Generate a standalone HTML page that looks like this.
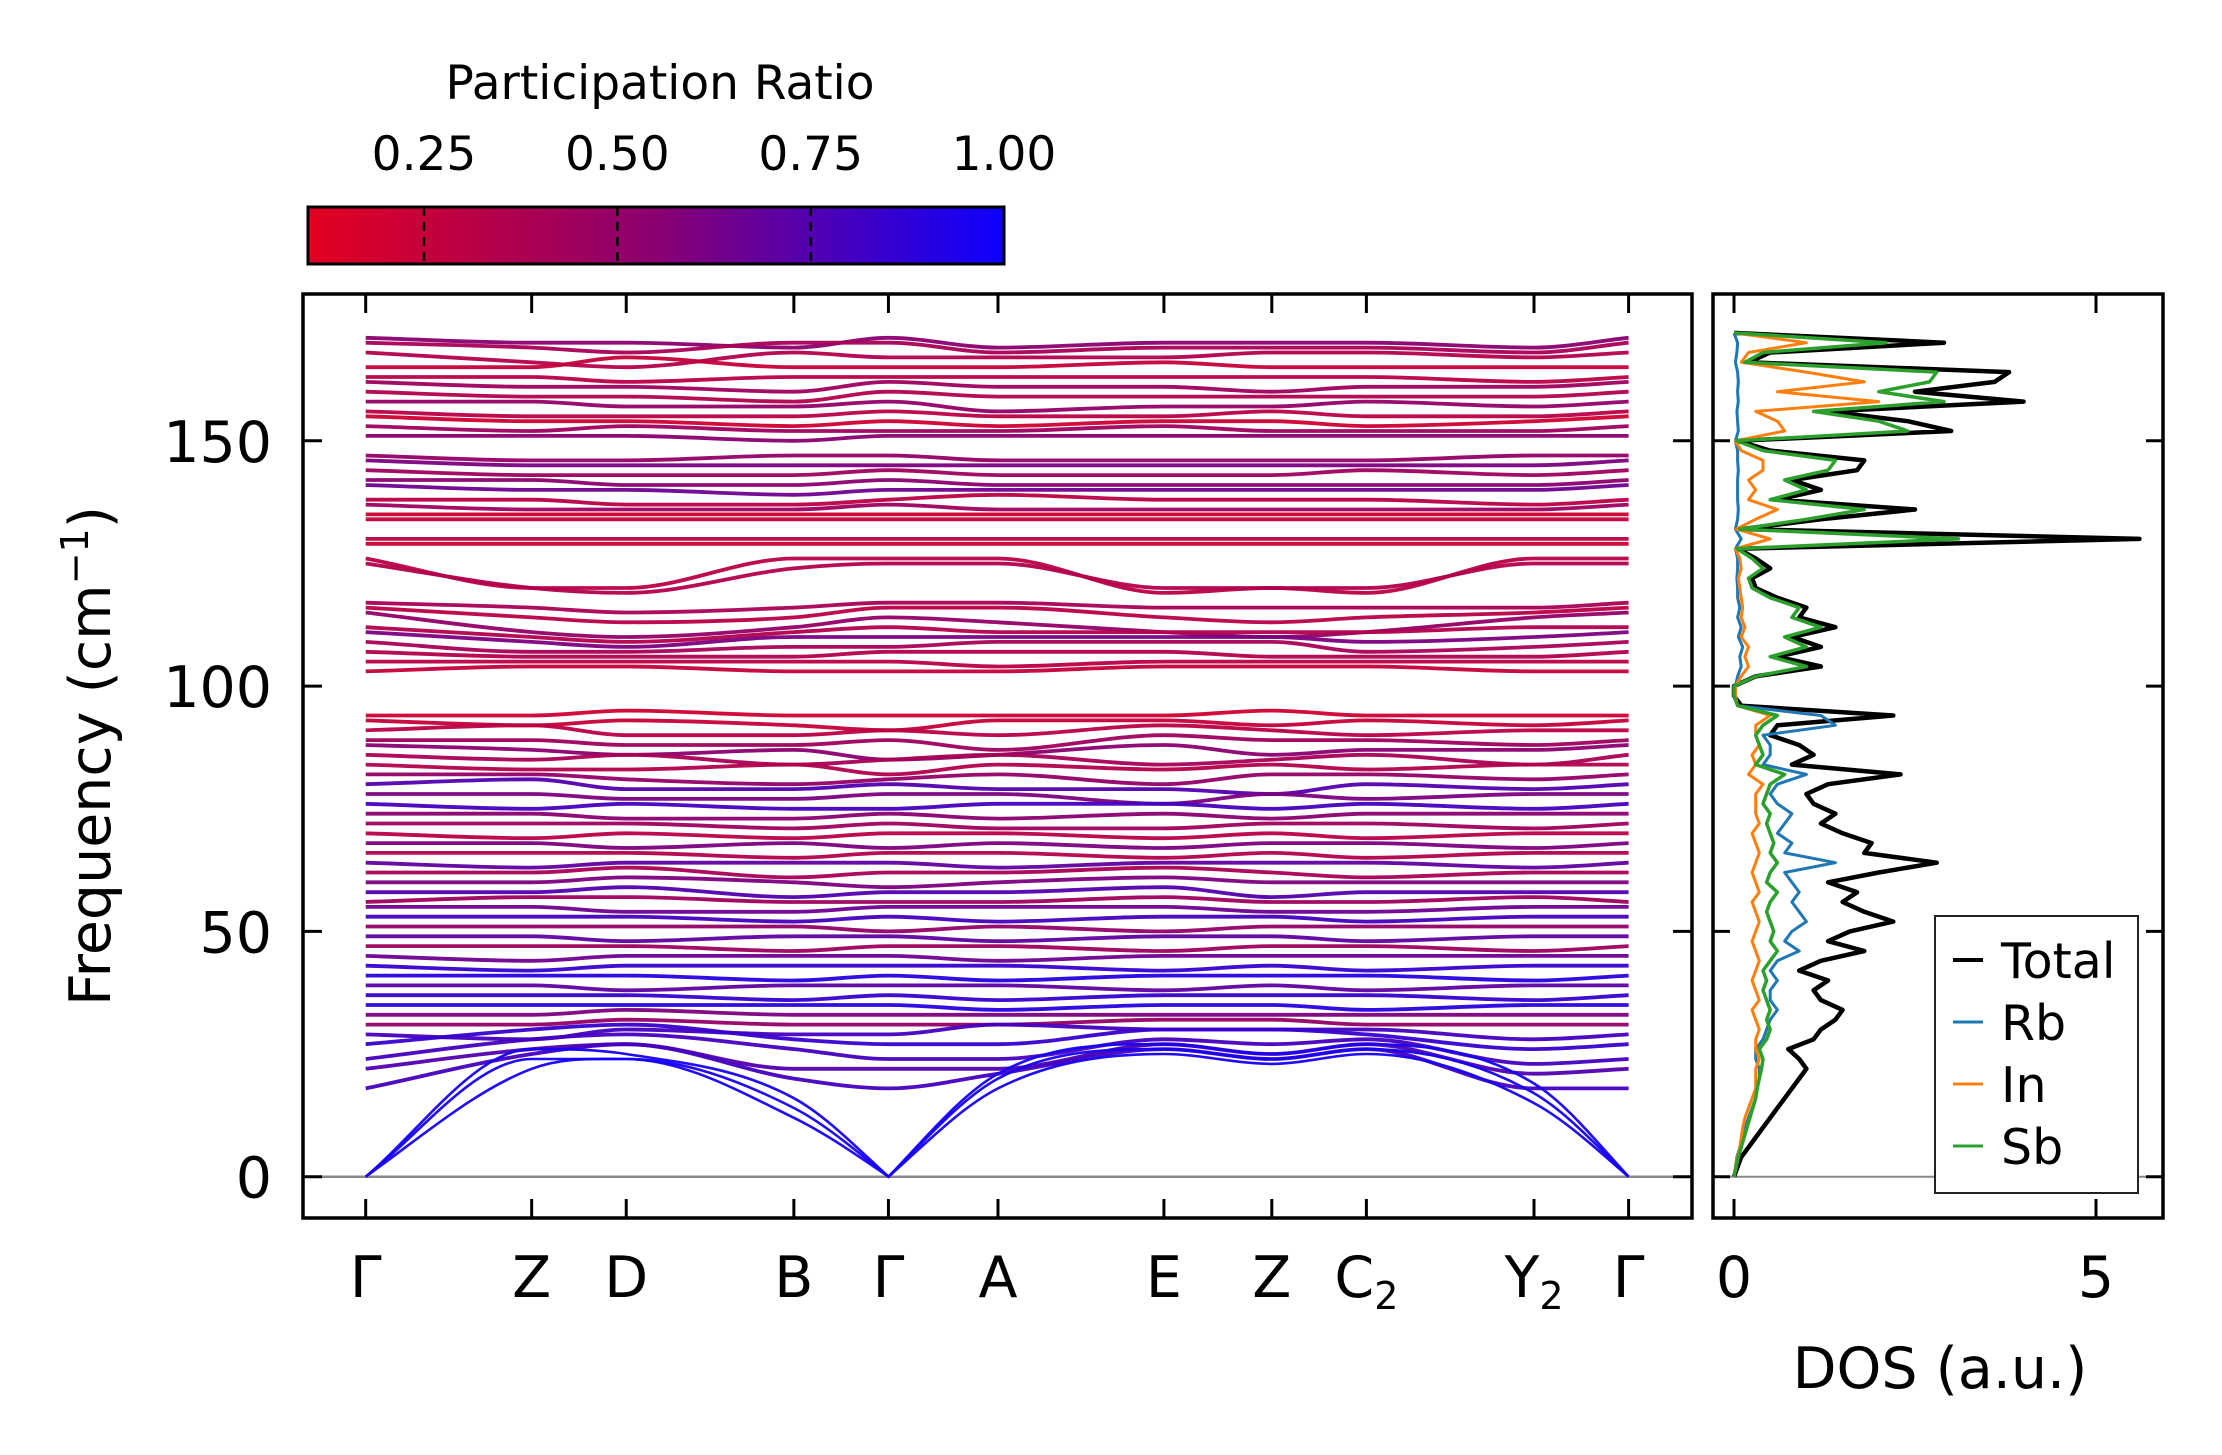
<!DOCTYPE html>
<html><head><meta charset="utf-8">
<style>
html,body{margin:0;padding:0;background:#fff;}
svg{display:block;font-family:"DejaVu Sans","Liberation Sans",sans-serif;}
</style></head>
<body>
<svg id="fig" width="2222" height="1455" viewBox="0 0 2222 1455" xmlns="http://www.w3.org/2000/svg">
<defs>
<linearGradient id="cmap" x1="0" x2="1" y1="0" y2="0">
<stop offset="0" stop-color="rgb(227,0,32)"/>
<stop offset="0.5" stop-color="rgb(138,0,112)"/>
<stop offset="1" stop-color="rgb(12,0,255)"/>
</linearGradient>
<clipPath id="clipMain"><rect x="303" y="294" width="1389" height="924"/></clipPath>
<clipPath id="clipDos"><rect x="1713" y="294" width="450" height="924"/></clipPath>
</defs>

<text x="660" y="99" font-size="47" text-anchor="middle">Participation Ratio</text>
<rect x="308" y="207" width="696" height="57" fill="url(#cmap)" stroke="#000" stroke-width="3"/>
<g id="cbticks"></g>

<g id="bands" clip-path="url(#clipMain)"></g>
<rect x="303" y="294" width="1389" height="924" fill="none" stroke="#000" stroke-width="3.5"/>
<g id="mainTicks"></g>
<text transform="translate(110,756) rotate(-90)" font-size="57" text-anchor="middle">Frequency (cm<tspan font-size="38" dy="-22">−1</tspan><tspan dy="22">)</tspan></text>

<g id="dos" clip-path="url(#clipDos)"></g>
<rect x="1713" y="294" width="450" height="924" fill="none" stroke="#000" stroke-width="3.5"/>
<g id="dosTicks"></g>
<text x="1940" y="1388" font-size="57" text-anchor="middle">DOS (a.u.)</text>

<g>
<rect x="1935" y="916" width="203" height="277" fill="#fff" stroke="#222" stroke-width="2"/>
<g><line x1="1953" x2="1983" y1="960" y2="960" stroke="#000" stroke-width="4"/><text x="2001" y="978" font-size="49">Total</text></g>
<g><line x1="1953" x2="1983" y1="1022" y2="1022" stroke="#1f77b4" stroke-width="3"/><text x="2001" y="1040" font-size="49">Rb</text></g>
<g><line x1="1953" x2="1983" y1="1084" y2="1084" stroke="#ff7f0e" stroke-width="3"/><text x="2001" y="1102" font-size="49">In</text></g>
<g><line x1="1953" x2="1983" y1="1146" y2="1146" stroke="#2ca02c" stroke-width="3"/><text x="2001" y="1164" font-size="49">Sb</text></g>
</g>

<script>
const kLabels = ["Γ","Z","D","B","Γ","A","E","Z","C2","Y2","Γ"];
const kPos = [0, 1.0, 1.57, 2.58, 3.15, 3.81, 4.81, 5.46, 6.03, 7.04, 7.61];
const yTicks = [0, 50, 100, 150];
const cbTicks = [0.25, 0.50, 0.75, 1.00];
const bandFreqs = [
[171,170,170,169,171,169,170,170,170,169,171],
[170,169,168,170,170,168,169,169,169,168,170],
[168,166,165,168,167,167,167,168,168,167,168],
[165,165,167,165,165,165,166,165,165,165,165],
[163,163,162,163,163,163,163,163,163,162,163],
[162,161,161,160,162,161,161,160,161,161,162],
[160,159,159,158,160,159,159,159,159,159,160],
[158,158,157,157,158,156,157,157,158,157,158],
[156,155,155,155,156,155,155,156,155,155,156],
[155,154,154,153,154,153,154,154,153,154,155],
[153,152,153,152,152,152,153,152,152,152,153],
[151,151,151,150,151,151,151,151,151,151,151],
[147,146,146,147,147,146,146,146,146,147,147],
[146,145,145,145,145,145,145,145,145,145,146],
[144,143,143,143,144,143,143,143,144,143,144],
[142,142,141,141,142,141,141,141,141,141,142],
[141,140,140,139,140,140,140,140,140,140,141],
[138,138,137,137,138,139,138,138,138,137,138],
[137,136,136,136,137,136,136,136,136,136,137],
[135,135,135,135,135,135,135,135,135,135,135],
[134,134,134,134,134,134,134,134,134,134,134],
[130,130,130,130,130,130,130,130,130,130,130],
[129,129,129,129,129,129,129,129,129,129,129],
[126,120,120,126,126,126,119,120,119,126,126],
[125,120,119,124,125,125,120,120,120,125,125],
[117,116,115,116,117,117,116,116,116,116,117],
[116,114,113,114,116,116,114,113,114,115,116],
[115,111,110,112,114,113,111,110,111,114,115],
[112,110,109,111,112,111,111,111,111,112,112],
[111,109,108,110,110,110,110,110,109,110,111],
[109,107,107,108,108,109,109,109,107,108,109],
[107,106,106,106,107,107,107,106,106,106,107],
[105,105,105,105,105,104,105,105,105,105,105],
[103,104,104,103,103,103,104,104,104,103,103],
[94,94,95,94,94,94,94,95,94,94,94],
[93,92,93,92,91,93,93,92,93,92,93],
[91,92,90,90,91,90,92,91,90,91,91],
[89,89,88,88,89,87,90,89,89,88,89],
[88,87,86,87,85,86,88,86,87,87,88],
[86,85,86,84,85,86,84,85,86,84,86],
[84,83,83,84,82,84,83,84,83,84,84],
[82,82,81,80,81,82,80,82,82,81,82],
[80,81,79,79,80,79,79,78,80,79,80],
[78,78,77,77,78,78,76,78,77,78,78],
[76,75,76,75,75,76,76,75,76,75,76],
[74,74,73,73,74,73,74,73,74,74,74],
[72,72,72,71,72,71,71,72,72,71,72],
[70,69,70,69,70,70,69,70,69,70,70],
[68,68,67,68,67,68,67,68,68,67,68],
[66,66,66,65,66,66,65,66,65,66,66],
[64,63,64,64,64,63,64,64,64,63,64],
[62,62,63,61,62,62,63,62,61,62,62],
[60,60,61,60,59,60,61,60,60,60,60],
[58,58,59,57,58,58,59,57,58,58,58],
[56,57,57,56,56,56,57,56,56,57,56],
[55,55,54,54,55,55,55,54,54,55,55],
[53,53,53,52,53,52,53,53,52,53,53],
[51,51,51,51,50,51,50,51,51,51,51],
[49,49,48,49,49,48,49,49,48,49,49],
[47,47,47,46,47,47,46,47,47,46,47],
[45,44,45,45,45,44,45,45,45,45,45],
[43,42,43,43,43,43,42,43,42,43,43],
[41,41,41,40,41,40,41,41,41,40,41],
[39,39,38,39,39,39,38,39,38,39,39],
[37,37,37,36,37,36,37,37,37,36,37],
[35,35,35,35,35,34,35,35,34,35,35],
[33,33,34,33,33,33,33,33,33,33,33],
[31,31,32,31,31,31,32,32,31,31,31],
[29,28,30,29,29,31,30,30,30,28,29],
[27,30,31,28,27,27,30,30,29,26,27],
[24,28,29,26,24,24,28,27,28,23,24],
[22,26,27,22,22,22,27,25,27,21,22],
[18,25,27,20,18,21,26,24,26,18,18],
[0,26,25,16,0,21,27,25,27,19,0],
[0,24,24,14,0,20,26,24,26,17,0],
[0,22,24,12,0,18,25,23,25,15,0]
];
const bandPR = [
.55,.4,.35,.25,.3,.45,.35,.5,.3,.2,.45,.55,
.5,.6,.45,.55,.65,.3,.45,.2,.25,.3,.2,.3,.35,
.4,.3,.5,.35,.6,.4,.35,.3,.25,
.2,.25,.3,.45,.55,.4,.35,.5,.75,.6,.8,.55,.45,.3,.6,.35,.7,.4,.6,.75,.45,.65,.8,.5,.7,.45,.65,.85,.9,.7,.85,.9,.6,.5,
.8,.85,.8,.75,.8,
.97,.97,.97
];
const dosFreq = [];
for (let f = 0; f <= 172; f += 2) dosFreq.push(f);
const dosTotal = [0,0.05,0.1,0.2,0.3,0.4,0.5,0.6,0.7,0.8,
 0.9,1.0,0.9,0.75,1.1,1.2,1.4,1.5,1.2,1.1,
 1.3,0.9,1.2,1.8,1.3,1.6,2.2,1.8,1.5,1.7,
 1.3,2.0,2.8,1.8,1.9,1.5,1.2,1.4,1.1,1.0,
 1.3,2.3,0.8,1.1,0.9,0.5,0.6,2.2,0.1,0.0,
 0.0,0.3,1.2,0.6,1.2,0.8,1.4,0.9,1.0,0.6,
 0.3,0.25,0.5,0.3,0.05,5.6,0.1,1.2,2.5,0.6,
 1.2,0.8,1.7,1.8,0.5,0.05,3.0,2.4,1.3,4.0,
 2.5,3.6,3.8,0.2,0.5,2.9,0];
const dosRb = [0,0.02,0.04,0.08,0.12,0.15,0.2,0.25,0.3,0.3,
 0.35,0.35,0.3,0.3,0.4,0.45,0.5,0.6,0.5,0.5,
 0.6,0.5,0.6,0.9,0.7,0.8,1.0,0.9,0.8,0.9,
 0.8,0.7,1.4,0.7,0.8,0.6,0.7,0.8,0.6,0.5,
 0.6,1.0,0.4,0.5,0.5,0.4,1.4,1.2,0.05,0.02,
 0.02,0.05,0.1,0.08,0.12,0.06,0.1,0.05,0.08,0.05,
 0.05,0.04,0.05,0.05,0.02,0.1,0.02,0.05,0.06,0.05,
 0.05,0.05,0.06,0.05,0.05,0.02,0.06,0.05,0.04,0.06,
 0.05,0.06,0.05,0.02,0.04,0.05,0];
const dosIn = [0,0.02,0.05,0.08,0.1,0.12,0.15,0.2,0.25,0.3,
 0.3,0.3,0.35,0.3,0.3,0.35,0.3,0.25,0.35,0.3,
 0.25,0.3,0.35,0.3,0.25,0.3,0.35,0.3,0.25,0.35,
 0.3,0.25,0.3,0.35,0.3,0.25,0.35,0.3,0.3,0.3,
 0.4,0.2,0.3,0.25,0.35,0.3,0.3,0.5,0.05,0.02,
 0.02,0.1,0.2,0.15,0.2,0.1,0.15,0.1,0.12,0.1,
 0.08,0.06,0.1,0.08,0.02,0.5,0.03,0.3,0.6,0.2,
 0.3,0.2,0.4,0.4,0.1,0.02,0.7,0.6,0.3,2.0,
 0.6,1.8,1.0,0.1,0.2,1.0,0];
const dosSb = [0,0.03,0.06,0.1,0.14,0.18,0.22,0.26,0.3,0.32,
 0.35,0.38,0.4,0.35,0.45,0.5,0.45,0.5,0.45,0.4,
 0.45,0.4,0.5,0.6,0.5,0.55,0.5,0.45,0.5,0.6,
 0.45,0.5,0.6,0.5,0.55,0.5,0.45,0.5,0.4,0.45,
 0.5,0.7,0.3,0.4,0.35,0.3,0.4,0.6,0.05,0.0,
 0.0,0.3,1.0,0.5,1.0,0.7,1.2,0.8,0.9,0.5,
 0.25,0.2,0.4,0.25,0.04,3.1,0.08,1.0,1.8,0.5,
 1.0,0.7,1.3,1.4,0.4,0.04,2.4,2.0,1.1,2.9,
 2.0,2.7,2.8,0.15,0.4,2.1,0];

const NS = "http://www.w3.org/2000/svg";
const kx = k => 365.7 + (k / 7.61) * (1628.6 - 365.7);
const fy = f => 1176.7 - 4.906 * f;
const dx = v => 1734 + 72.4 * v;
const cbx = v => 308 + (v - 0.1) / 0.9 * 696;
function mk(tag, attrs, parent) {
  const e = document.createElementNS(NS, tag);
  for (const k in attrs) e.setAttribute(k, attrs[k]);
  parent.appendChild(e);
  return e;
}
function prColor(p) {
  let t = Math.max(0, Math.min(1, (p - 0.1) / 0.9));
  let a, b, u;
  if (t < 0.5) { a = [227,0,32]; b = [138,0,112]; u = t / 0.5; }
  else { a = [138,0,112]; b = [12,0,255]; u = (t - 0.5) / 0.5; }
  const c = a.map((v, i) => Math.round(v + (b[i] - v) * u));
  return `rgb(${c[0]},${c[1]},${c[2]})`;
}
function monoPath(xs, vals) {
  const ys = vals.map(fy);
  const n = xs.length, d = [], m = [];
  for (let i = 0; i < n - 1; i++) d.push((ys[i+1] - ys[i]) / (xs[i+1] - xs[i]));
  for (let i = 0; i < n; i++) {
    if (i === 0) m[i] = d[0];
    else if (i === n-1) m[i] = d[n-2];
    else m[i] = (d[i-1] * d[i] <= 0) ? 0 : (d[i-1] + d[i]) / 2;
  }
  let p = `M${xs[0].toFixed(1)},${ys[0].toFixed(1)}`;
  for (let i = 0; i < n - 1; i++) {
    const h = xs[i+1] - xs[i];
    let m0 = m[i], m1 = m[i+1];
    if (vals[i] === 0) m0 = d[i] * 1.1;
    if (vals[i+1] === 0) m1 = d[i] * 1.1;
    p += ` C${(xs[i]+h/3).toFixed(1)},${(ys[i]+m0*h/3).toFixed(1)} ${(xs[i+1]-h/3).toFixed(1)},${(ys[i+1]-m1*h/3).toFixed(1)} ${xs[i+1].toFixed(1)},${ys[i+1].toFixed(1)}`;
  }
  return p;
}

const cbg = document.getElementById('cbticks');
cbTicks.forEach(v => {
  const x = cbx(v);
  if (v < 1) {
    const l = mk('line', {x1:x, x2:x, y1:207, y2:264, stroke:'#000', 'stroke-width':2.5, 'stroke-dasharray':'9,6'}, cbg);
    
    
  }
  const t = mk('text', {x:x, y:170, 'font-size':47, 'text-anchor':'middle'}, cbg);
  t.textContent = v.toFixed(2);
  
  
});

const mt = document.getElementById('mainTicks');
yTicks.forEach(v => {
  const y = fy(v);
  mk('line', {x1:303, x2:322, y1:y, y2:y, stroke:'#000', 'stroke-width':3}, mt);
  mk('line', {x1:1692, x2:1673, y1:y, y2:y, stroke:'#000', 'stroke-width':3}, mt);
  const t = mk('text', {x:272, y:y + 21, 'font-size':57, 'text-anchor':'end'}, mt);
  t.textContent = v;
  
  
});
kPos.forEach((k, i) => {
  const x = kx(k);
  mk('line', {x1:x, x2:x, y1:1218, y2:1199, stroke:'#000', 'stroke-width':3}, mt);
  mk('line', {x1:x, x2:x, y1:294, y2:313, stroke:'#000', 'stroke-width':3}, mt);
  const t = mk('text', {x:x, y:1297, 'font-size':57, 'text-anchor':'middle'}, mt);
  const lab = kLabels[i];
  if (lab.length > 1) {
    t.textContent = lab[0];
    const s = mk('tspan', {'font-size':38, dy:12}, t);
    s.textContent = lab.slice(1);
  } else t.textContent = lab;
  
  
});

const bg = document.getElementById('bands');
const zl = mk('line', {x1:303, x2:1692, y1:fy(0), y2:fy(0), stroke:'#888', 'stroke-width':2.5}, bg);


const xs = kPos.map(kx);
bandFreqs.forEach((b, i) => {
  const pr = bandPR[i] !== undefined ? bandPR[i] : 0.5;
  const p = mk('path', {d: monoPath(xs, b), fill:'none', stroke: prColor(pr), 'stroke-width': pr > 0.95 ? 2.6 : 3.8, 'stroke-opacity':0.95}, bg);
  
  
});

const dg = document.getElementById('dos');
const dl = mk('line', {x1:1713, x2:2163, y1:fy(0), y2:fy(0), stroke:'#888', 'stroke-width':2}, dg);


const series = [[dosTotal,'#000',4.5,'dos-total'],[dosRb,'#1f77b4',3,'dos-rb'],[dosIn,'#ff7f0e',3,'dos-in'],[dosSb,'#2ca02c',3.5,'dos-sb']];
series.forEach(s => {
  const pts = s[0].map((v, i) => `${dx(v).toFixed(1)},${fy(dosFreq[i]).toFixed(1)}`).join(' ');
  const pl = mk('polyline', {points: pts, fill:'none', stroke:s[1], 'stroke-width':s[2], 'stroke-linejoin':'round'}, dg);
  
  
});
const dt = document.getElementById('dosTicks');
yTicks.forEach(v => {
  const y = fy(v);
  mk('line', {x1:1713, x2:1730, y1:y, y2:y, stroke:'#000', 'stroke-width':3}, dt);
  mk('line', {x1:2163, x2:2146, y1:y, y2:y, stroke:'#000', 'stroke-width':3}, dt);
});
[0, 5].forEach(v => {
  const x = dx(v);
  mk('line', {x1:x, x2:x, y1:1218, y2:1199, stroke:'#000', 'stroke-width':3}, dt);
  mk('line', {x1:x, x2:x, y1:294, y2:313, stroke:'#000', 'stroke-width':3}, dt);
  const t = mk('text', {x:x, y:1297, 'font-size':57, 'text-anchor':'middle'}, dt);
  t.textContent = v;
  
  
});
</script>
</svg>
</body></html>
